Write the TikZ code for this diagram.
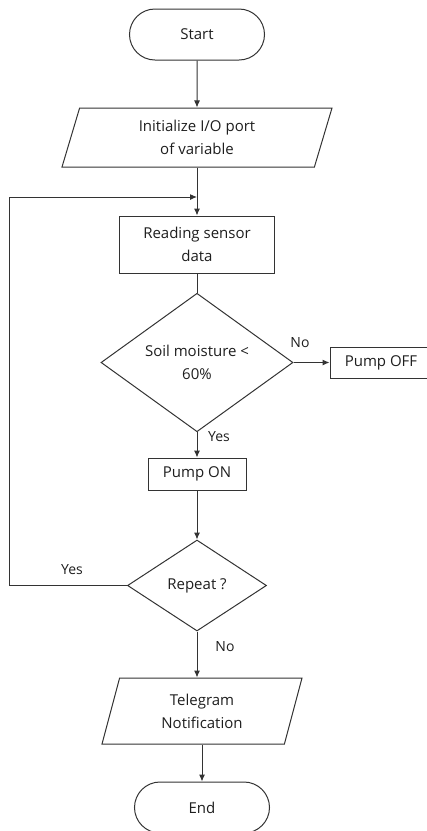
\documentclass[tikz,border=0pt]{standalone}
\usepackage{fontspec}
\setmainfont{Open Sans}
\usetikzlibrary{arrows.meta,shapes.geometric,shapes.misc}

\definecolor{linegray}{HTML}{333333}
\definecolor{textgray}{HTML}{1E1E1E}

\tikzset{
	base/.style={draw=linegray, line width=1pt, text=textgray, inner sep=0pt, align=center,
		font=\fontsize{15}{23}\selectfont},
	term/.style={base, rounded rectangle, minimum width=135pt, minimum height=51pt},
	io/.style={base, trapezium, trapezium left angle=63, trapezium right angle=117,
		trapezium stretches body},
	proc/.style={base, rectangle},
	decide/.style={base, diamond},
	lbl/.style={text=textgray, inner sep=0pt, font=\fontsize{14}{16}\selectfont},
	arw/.style={draw=linegray, line width=1pt, -{Latex[length=7pt,width=6pt]}},
	ln/.style={draw=linegray, line width=1pt}
}

\begin{document}
\begin{tikzpicture}[x=1pt,y=-1pt]
		\useasboundingbox (0,0) rectangle (427,831);

		\node[term] (start) at (197,34.5) {Start};
		\node[io, minimum width=270pt, minimum height=59pt] (init) at (197,137.5) {Initialize I/O port\\of variable};
		\node[proc, minimum width=155pt, minimum height=57pt] (read) at (197,244.5) {Reading sensor\\data};
		\node[decide, minimum width=192pt, minimum height=125pt] (soil) at (197,362.5) {Soil moisture <\\60\%};
		\node[proc, minimum width=102pt, minimum height=31pt] (off) at (381,362.5) {Pump OFF};
		\node[proc, minimum width=98pt, minimum height=32pt] (on) at (197,474) {Pump ON};
		\node[decide, minimum width=139pt, minimum height=91pt] (rep) at (197,585.5) {Repeat ?};
		\node[io, minimum width=200pt, minimum height=66pt] (tele) at (202,711) {Telegram\\Notification};
		\node[term] (end) at (202,807.5) {End};

		% labels
		\node[lbl] (lno1) at (300,343) {No};
		\node[lbl] (lyes1) at (219,437) {Yes};
		\node[lbl] (lyes2) at (72,570) {Yes};
		\node[lbl] (lno2) at (225,647) {No};

		\coordinate (merge) at (197,197);

		\draw[arw] (start) -- (init);
		\draw[arw] (init) -- (read);
		\draw[ln] (read) -- (soil);
		\draw[arw] (soil) -- (off);
		\draw[arw] (soil) -- (on);
		\draw[arw] (on) -- (rep);
		\draw[arw] (rep.west) -- ++(-118,0) |- (merge);
		\draw[arw] (rep.south) -- (rep.south |- tele.north);
		\draw[arw] (tele.south) -- (tele.south |- end.north);

\end{tikzpicture}
\end{document}
